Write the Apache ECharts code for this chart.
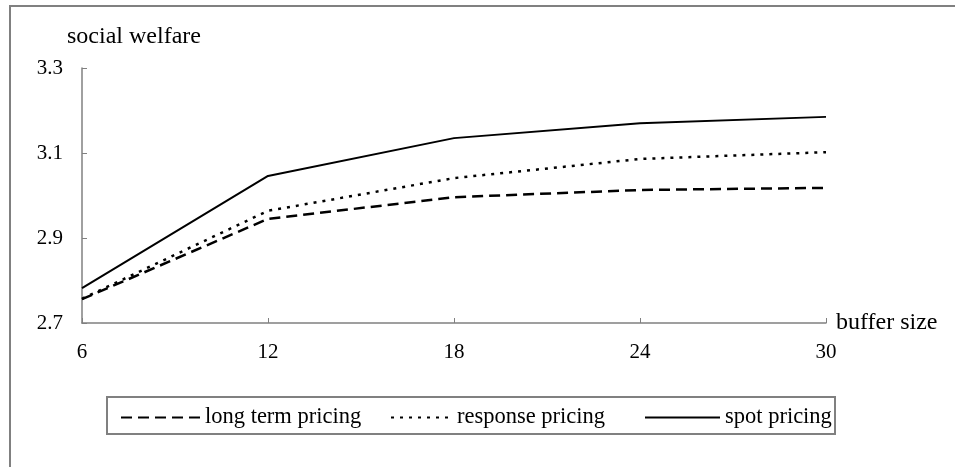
<!DOCTYPE html>
<html>
<head>
<meta charset="utf-8">
<script src="https://cdn.jsdelivr.net/npm/echarts@6/dist/echarts.min.js"></script>
<style>html,body{margin:0;padding:0;background:#fff}#c{width:955px;height:467px}</style>
</head>
<body>
<div id="c"></div>
<script>
const bufferSizes = [6, 12, 18, 24, 30];
const longTerm = [2.756, 2.945, 2.996, 3.013, 3.018];
const response = [2.757, 2.964, 3.041, 3.086, 3.102];
const spot = [2.782, 3.046, 3.135, 3.170, 3.185];
const seriesNames = ['long term pricing', 'response pricing', 'spot pricing'];
const yTicks = [2.7, 2.9, 3.1, 3.3];

const FONT = '"Liberation Serif", "Times New Roman", serif';
const chart = echarts.init(document.getElementById('c'), null, {renderer: 'canvas'});
const pairs = arr => bufferSizes.map((x, i) => [x, arr[i]]);

const legendPos = [[115, 79], [385, 61], [639, 75]];
const legends = seriesNames.map((n, i) => ({
  left: legendPos[i][0], top: 401, itemWidth: legendPos[i][1], itemHeight: 14,
  data: [n], itemStyle: {opacity: 0},
  textStyle: {fontSize: 22.5, color: '#000', fontFamily: FONT}
}));

chart.setOption({
  backgroundColor: '#fff',
  animation: false,
  textStyle: {fontFamily: FONT, color: '#000'},
  grid: {left: 82, right: 129, top: 68, bottom: 144},
  graphic: [
    {type: 'rect', shape: {x: 10, y: 6, width: 1000, height: 500}, style: {fill: 'none', stroke: '#808080', lineWidth: 2}, z: -1},
    {type: 'rect', shape: {x: 107, y: 397, width: 728, height: 37}, style: {fill: 'none', stroke: '#808080', lineWidth: 2}, z: -1},
    {type: 'text', x: 67, y: 37, style: {text: 'social welfare', font: '24px ' + FONT, fill: '#000', verticalAlign: 'middle'}},
    {type: 'text', x: 836, y: 323, style: {text: 'buffer size', font: '24px ' + FONT, fill: '#000', verticalAlign: 'middle'}}
  ],
  xAxis: {
    type: 'value', min: 6, max: 30, interval: 6,
    axisLine: {show: true, lineStyle: {color: '#808080', width: 1.5}},
    axisTick: {show: true, inside: true, length: 5, lineStyle: {color: '#808080'}},
    axisLabel: {margin: 19, fontSize: 21, color: '#000', fontFamily: FONT},
    splitLine: {show: false}
  },
  yAxis: {
    type: 'value', min: 2.7, max: 3.3, interval: 0.2,
    axisLine: {show: true, lineStyle: {color: '#808080', width: 1.5}},
    axisTick: {show: true, inside: true, length: 5, lineStyle: {color: '#808080'}},
    axisLabel: {margin: 19, fontSize: 21, color: '#000', fontFamily: FONT, formatter: v => v.toFixed(1)},
    splitLine: {show: false}
  },
  legend: legends,
  series: [
    {name: seriesNames[0], type: 'line', data: pairs(longTerm), symbol: 'none',
     lineStyle: {color: '#000', width: 2.5, type: [11, 6]}, itemStyle: {color: '#000'}},
    {name: seriesNames[1], type: 'line', data: pairs(response), symbol: 'none',
     lineStyle: {color: '#000', width: 2.5, type: [3, 6]}, itemStyle: {color: '#000'}},
    {name: seriesNames[2], type: 'line', data: pairs(spot), symbol: 'none',
     lineStyle: {color: '#000', width: 2}, itemStyle: {color: '#000'}}
  ]
});
</script>
</body>
</html>
